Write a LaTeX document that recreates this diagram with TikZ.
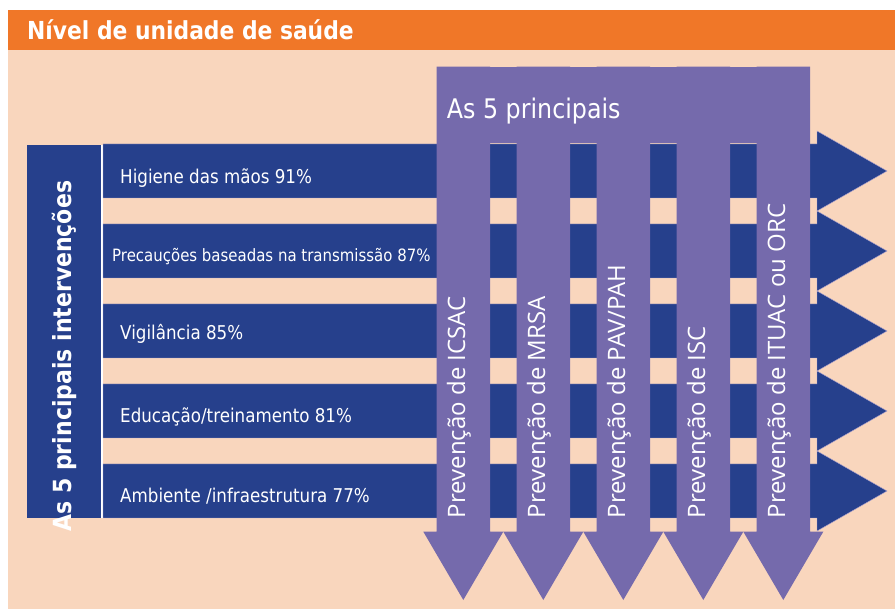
\documentclass[tikz,border=0pt]{standalone}
\usepackage{fontspec}
\setmainfont[FakeStretch=0.88]{DejaVu Sans}
\newfontfamily\colfont{Open Sans}
\usepackage{xcolor}

\definecolor{titleorange}{RGB}{240,119,40}
\definecolor{peachbg}{RGB}{249,214,189}
\definecolor{rowblue}{RGB}{38,64,140}
\definecolor{colpurple}{RGB}{117,106,172}
\definecolor{edgeline}{RGB}{170,160,205}

\begin{document}
\begin{tikzpicture}[
  x=1pt, y=-1pt,
  rowbar/.style={fill=rowblue, draw=edgeline, line width=0.4pt},
  colbar/.style={fill=colpurple},
  rowtext/.style={text=white, inner sep=0pt, anchor=base west, font=\fontsize{19}{22}\selectfont},
  coltext/.style={text=white, inner sep=0pt, anchor=base west, rotate=90, font=\colfont\fontsize{24}{28}\selectfont}
]
\useasboundingbox (0,0) rectangle (895,609);
\fill[peachbg] (8,50) rectangle (895,609);
\fill[titleorange] (8,10) rectangle (895,50);
\node[text=white, inner sep=0pt, anchor=base west, font=\bfseries\fontsize{24.8}{28}\selectfont] (title) at (27,39.5) {Nível de unidade de saúde};

% left block
\fill[rowblue] (27,145) rectangle (101,518);
\fill[white] (101,145) rectangle (103.2,518);

% the five interventions
\fill[rowbar] (103,144) -- ++(714,0) -- ++(0,-13) -- ++(70,40) -- ++(-70,40) -- ++(0,-13) -- ++(-714,0) -- cycle;
\fill[rowbar] (103,224) -- ++(714,0) -- ++(0,-13) -- ++(70,40) -- ++(-70,40) -- ++(0,-13) -- ++(-714,0) -- cycle;
\fill[rowbar] (103,304) -- ++(714,0) -- ++(0,-13) -- ++(70,40) -- ++(-70,40) -- ++(0,-13) -- ++(-714,0) -- cycle;
\fill[rowbar] (103,384) -- ++(714,0) -- ++(0,-13) -- ++(70,40) -- ++(-70,40) -- ++(0,-13) -- ++(-714,0) -- cycle;
\fill[rowbar] (103,464) -- ++(714,0) -- ++(0,-13) -- ++(70,40) -- ++(-70,40) -- ++(0,-13) -- ++(-714,0) -- cycle;

\node[rowtext] (hig) at (120,183.3) {Higiene das mãos 91\%};
\node[rowtext, font=\fontsize{17}{20}\selectfont] (prec) at (112,261.7) {Precauções baseadas na transmissão 87\%};
\node[rowtext] (vig) at (120,340) {Vigilância 85\%};
\node[rowtext] (edu) at (120,423) {Educação/treinamento 81\%};
\node[rowtext] (amb) at (120,502.7) {Ambiente /infraestrutura 77\%};

\node[text=white, inner sep=0pt, anchor=base west, rotate=90, font=\bfseries\fontsize{25}{30}\selectfont] (interv) at (71.7,531.7) {As 5 principais intervenções};

% the five preventions
\fill[colbar] (436.7,66.7) rectangle (810,143.5);
\fill[colbar] (436.7,66.7) -- ++(53.3,0) -- ++(0,465) -- ++(13.3,0) -- ++(-40,68.3) -- ++(-40,-68.3) -- ++(13.3,0) -- cycle;
\fill[colbar] (516.7,66.7) -- ++(53.3,0) -- ++(0,465) -- ++(13.3,0) -- ++(-40,68.3) -- ++(-40,-68.3) -- ++(13.3,0) -- cycle;
\fill[colbar] (596.7,66.7) -- ++(53.3,0) -- ++(0,465) -- ++(13.3,0) -- ++(-40,68.3) -- ++(-40,-68.3) -- ++(13.3,0) -- cycle;
\fill[colbar] (676.7,66.7) -- ++(53.3,0) -- ++(0,465) -- ++(13.3,0) -- ++(-40,68.3) -- ++(-40,-68.3) -- ++(13.3,0) -- cycle;
\fill[colbar] (756.7,66.7) -- ++(53.3,0) -- ++(0,465) -- ++(13.3,0) -- ++(-40,68.3) -- ++(-40,-68.3) -- ++(13.3,0) -- cycle;

\node[text=white, inner sep=0pt, anchor=base west, font=\fontsize{27}{32}\selectfont] (princ) at (446.7,118.3) {As 5 principais};

\node[coltext] (icsac) at (465,518.3) {Prevenção de ICSAC};
\node[coltext] (mrsa) at (545,518.3) {Prevenção de MRSA};
\node[coltext] (pav) at (625,518.3) {Prevenção de PAV/PAH};
\node[coltext] (isc) at (705,518.3) {Prevenção de ISC};
\node[coltext] (ituac) at (785,518.3) {Prevenção de ITUAC ou ORC};
\end{tikzpicture}
\end{document}
